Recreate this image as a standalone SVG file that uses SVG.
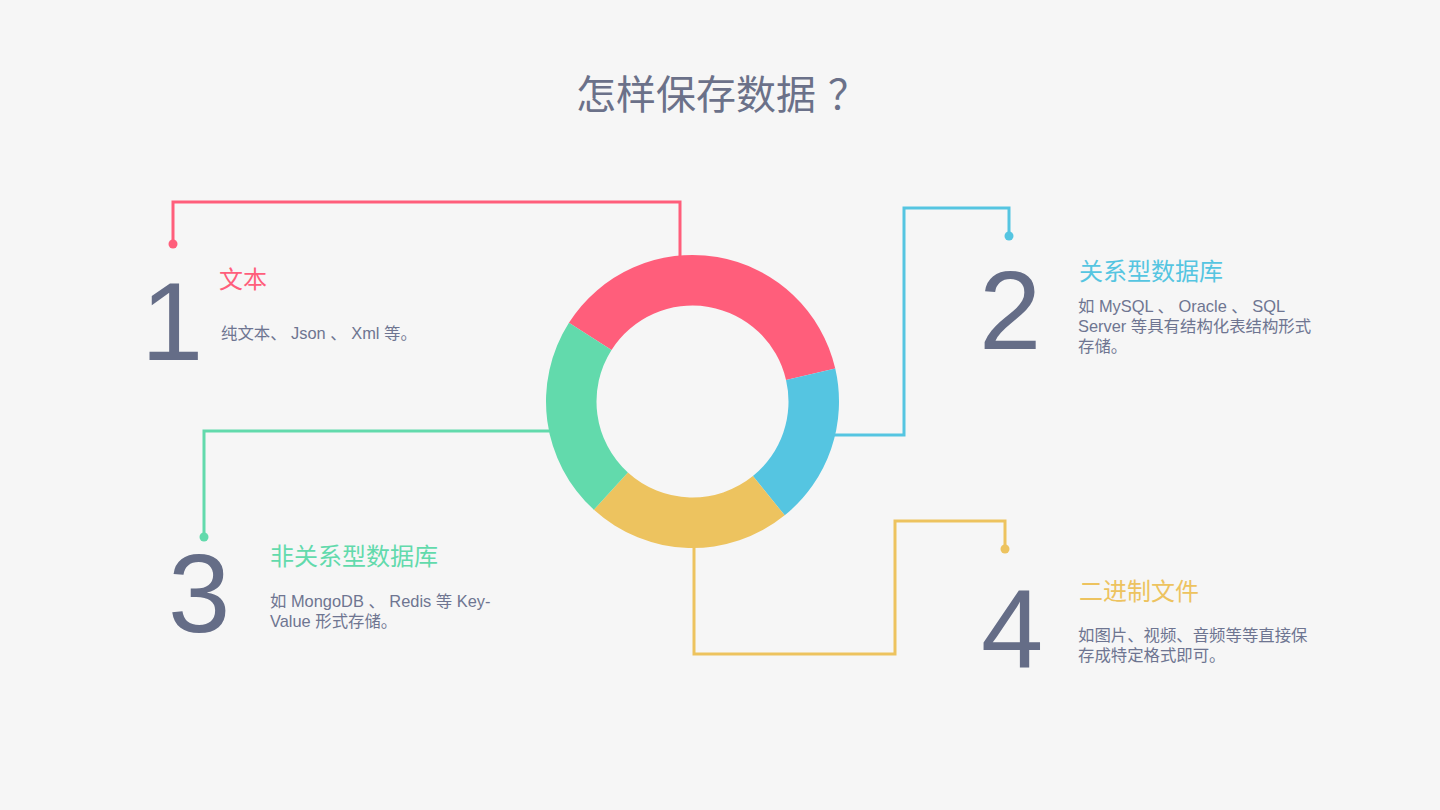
<svg xmlns="http://www.w3.org/2000/svg" width="1440" height="810" viewBox="0 0 1440 810">
<style>
text{font-family:"Liberation Sans","Noto Sans CJK SC",sans-serif}
.title{font-size:40px;fill:#6B7189}
.num{font-size:112px;fill:#656D87}
.head{font-size:24px}
.desc{font-size:16.4px;fill:#6E7591}
.ln{fill:none;stroke-width:3}
.red{stroke:#FF5E7B}.blue{stroke:#55C5E1}.green{stroke:#62DAAC}.yellow{stroke:#EDC35F}
</style>
<rect width="1440" height="810" fill="#F6F6F6"/>
<text class="title" x="576" y="109">怎样保存数据<tspan x="828">？</tspan></text>
<g id="connectors">
<polyline class="ln red" points="173,244 173,202 680,202 680,260"/>
<circle cx="173" cy="244" r="4.5" fill="#FF5E7B"/>
<polyline class="ln blue" points="830,435 904,435 904,208 1009,208 1009,236"/>
<circle cx="1009" cy="236" r="4.5" fill="#55C5E1"/>
<polyline class="ln green" points="555,431 204,431 204,537"/>
<circle cx="204" cy="537" r="4.5" fill="#62DAAC"/>
<polyline class="ln yellow" points="694,540 694,654 895,654 895,521 1005,521 1005,549"/>
<circle cx="1005" cy="549" r="4.5" fill="#EDC35F"/>
</g>
<g id="ring">
<path d="M568.94,322.79 A146.5,146.5 0 0 1 835.25,368.54 L786.04,379.90 A96,96 0 0 0 611.53,349.92 Z" fill="#FF5E7B"/>
<path d="M835.25,368.54 A146.5,146.5 0 0 1 784.70,515.35 L752.91,476.11 A96,96 0 0 0 786.04,379.90 Z" fill="#55C5E1"/>
<path d="M784.70,515.35 A146.5,146.5 0 0 1 593.90,509.86 L627.89,472.50 A96,96 0 0 0 752.91,476.11 Z" fill="#EDC35F"/>
<path d="M593.90,509.86 A146.5,146.5 0 0 1 568.94,322.79 L611.53,349.92 A96,96 0 0 0 627.89,472.50 Z" fill="#62DAAC"/>
</g>
<g id="item1">
<text class="num" x="141" y="360">1</text>
<text class="head" x="219" y="288" fill="#FF5E7B">文本</text>
<text class="desc" x="221" y="339">纯文本、 Json 、 Xml 等。</text>
</g>
<g id="item2">
<text class="num" x="979" y="349">2</text>
<text class="head" x="1079" y="280" fill="#55C5E1">关系型数据库</text>
<text class="desc" x="1078" y="312">如 MySQL 、 Oracle 、 SQL</text>
<text class="desc" x="1078" y="332">Server 等具有结构化表结构形式</text>
<text class="desc" x="1078" y="352">存储。</text>
</g>
<g id="item3">
<text class="num" x="168" y="632">3</text>
<text class="head" x="270" y="565" fill="#62DAAC">非关系型数据库</text>
<text class="desc" x="270" y="607">如 MongoDB 、 Redis 等 Key-</text>
<text class="desc" x="270" y="627">Value 形式存储。</text>
</g>
<g id="item4">
<text class="num" x="981" y="667">4</text>
<text class="head" x="1079" y="600" fill="#EDC35F">二进制文件</text>
<text class="desc" x="1078" y="641">如图片、视频、音频等等直接保</text>
<text class="desc" x="1078" y="661">存成特定格式即可。</text>
</g>
</svg>
